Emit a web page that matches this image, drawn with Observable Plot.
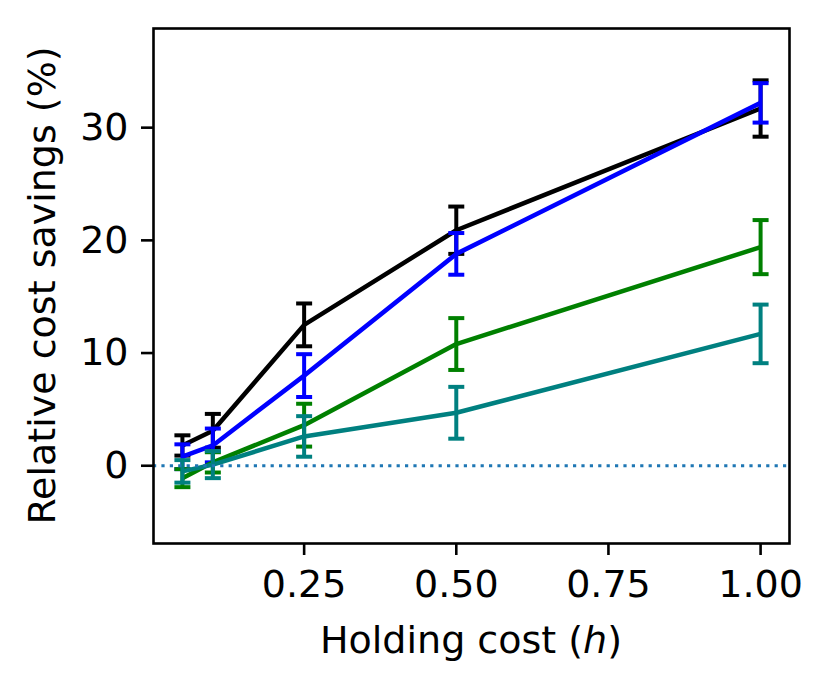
<!DOCTYPE html>
<html>
<head>
<meta charset="utf-8">
<script src="https://cdn.jsdelivr.net/npm/d3@7"></script>
<script src="https://cdn.jsdelivr.net/npm/@observablehq/plot@0.6"></script>
<style>
  html, body { margin: 0; padding: 0; background: white; }
</style>
</head>
<body>
<div id="chart"></div>
<script>
// ---- data ----
const holdingCost = [0.05, 0.1, 0.25, 0.5, 1.0];
const seriesOrder = ["black", "blue", "green", "teal"];
const blackMean = [1.8, 3.1, 12.5, 20.9, 31.7];
const blackErr  = [0.9, 1.5, 1.9, 2.1, 2.5];
const blueMean  = [0.8, 1.8, 8.0, 18.8, 32.2];
const blueErr   = [1.1, 1.5, 1.9, 1.85, 1.75];
const greenMean = [-1.1, 0.3, 3.6, 10.8, 19.4];
const greenErr  = [0.8, 0.9, 1.9, 2.3, 2.4];
const tealMean  = [-0.5, 0.1, 2.6, 4.7, 11.7];
const tealErr   = [1.0, 1.2, 1.8, 2.3, 2.6];
const xTicks = [0.25, 0.5, 0.75, 1.0];
const yTicks = [0, 10, 20, 30];
const xLabel = "Holding cost (";
const xLabelVar = "h";
const yLabel = "Relative cost savings (%)";

const means = {black: blackMean, blue: blueMean, green: greenMean, teal: tealMean};
const errs  = {black: blackErr,  blue: blueErr,  green: greenErr,  teal: tealErr};
const colors = {black: "#000000", blue: "#0000ff", green: "#008000", teal: "#008080"};

const rows = [];
for (const s of seriesOrder) {
  holdingCost.forEach((h, i) => {
    rows.push({series: s, h, v: means[s][i], lo: means[s][i] - errs[s][i], hi: means[s][i] + errs[s][i]});
  });
}

// horizontal cap symbol
const capSymbol = {
  draw(context, size) {
    const w = 8;
    context.moveTo(-w, 0);
    context.lineTo(w, 0);
  }
};

const FS = 38;
const marks = [
  Plot.axisX({ticks: xTicks, tickFormat: d => d.toFixed(2), tickSize: 12, tickPadding: 15, label: null, strokeWidth: 2.6, fontSize: FS}),
  Plot.axisY({ticks: yTicks, tickSize: 12, tickPadding: 13, label: null, strokeWidth: 2.6, fontSize: FS})
];
for (const s of seriesOrder) {
  const d = rows.filter(r => r.series === s);
  const c = colors[s];
  marks.push(Plot.line(d, {x: "h", y: "v", stroke: c, strokeWidth: 4.5, strokeLinejoin: "round", strokeLinecap: "butt"}));
  marks.push(Plot.ruleX(d, {x: "h", y1: "lo", y2: "hi", stroke: c, strokeWidth: 4}));
  marks.push(Plot.dot(d, {x: "h", y: "lo", symbol: capSymbol, stroke: c, strokeWidth: 4, fill: "none", r: 8}));
  marks.push(Plot.dot(d, {x: "h", y: "hi", symbol: capSymbol, stroke: c, strokeWidth: 4, fill: "none", r: 8}));
}
marks.push(Plot.ruleY([0], {stroke: "#1f77b4", strokeWidth: 3.2, strokeDasharray: "3.2,5.2"}));
marks.push(Plot.frame({stroke: "black", strokeWidth: 2.6}));

const chart = Plot.plot({
  width: 829,
  height: 690,
  marginLeft: 153,
  marginRight: 40,
  marginTop: 28,
  marginBottom: 147,
  style: {fontFamily: "DejaVu Sans", fontSize: FS + "px", background: "white", color: "black", overflow: "visible"},
  x: {domain: [0.0025, 1.0475]},
  y: {domain: [-6.9, 38.8]},
  marks
});

const svg = d3.select(chart);
const xt = svg.append("text")
  .attr("x", (153 + 789) / 2)
  .attr("y", 653)
  .attr("text-anchor", "middle")
  .attr("font-family", "DejaVu Sans")
  .attr("font-size", FS)
  .attr("fill", "black");
xt.append("tspan").text(xLabel);
xt.append("tspan").attr("font-style", "italic").text(xLabelVar);
xt.append("tspan").text(")");

svg.append("text")
  .attr("transform", `translate(55, ${(28 + 543) / 2}) rotate(-90)`)
  .attr("text-anchor", "middle")
  .attr("font-family", "DejaVu Sans")
  .attr("font-size", FS)
  .attr("fill", "black")
  .text(yLabel);

document.getElementById("chart").appendChild(chart);
</script>
</body>
</html>
